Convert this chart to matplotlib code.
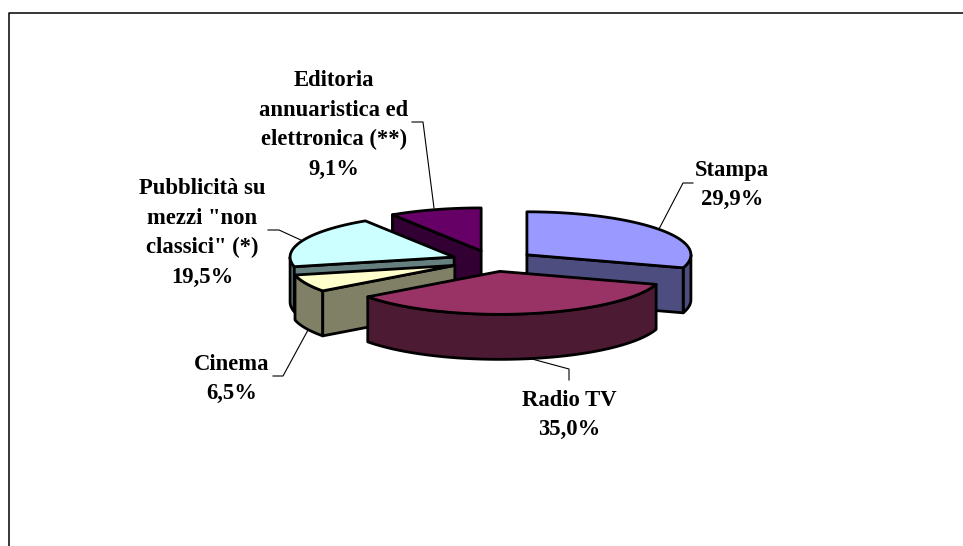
import numpy as np
import matplotlib
matplotlib.use('Agg')
import matplotlib.pyplot as plt
from matplotlib.patches import Polygon

# Data (clockwise from 12 o'clock)
labels = ['Stampa\n29,9%', 'Radio TV\n35,0%', 'Cinema\n6,5%',
          'Pubblicità su\nmezzi "non\nclassici" (*)\n19,5%',
          'Editoria\nannuaristica ed\nelettronica (**)\n9,1%']
values = [29.9, 35.0, 6.5, 19.5, 9.1]
top_colors = ['#9999FF', '#993366', '#FFFFCC', '#CCFFFF', '#660066']
side_colors = ['#4D4D80', '#4D1A33', '#808066', '#668080', '#330033']
label_pos = [(732, 185), (569, 415), (232, 379), (202, 233), (334, 125)]
leaders = [[(693, 183), (683, 183), (659, 229)],
           [(569, 380), (569, 369), (532, 359)],
           [(273, 376), (283, 376), (308, 330)],
           [(268, 230), (279, 230), (303, 241)],
           [(412, 122), (423, 122), (434, 208)]]

# Projection of the pie, in pixels
cx, cy = 493, 261
rx, ry = 164, 43
depth = 45
ex, ey = 42, 10.5
lw = 2.0

fig = plt.figure(figsize=(9.63, 5.46), dpi=100)
ax = fig.add_axes([0, 0, 1, 1])
ax.set_xlim(0, 963)
ax.set_ylim(546, 0)
ax.axis('off')

# Frame: only top and left are in the picture
ax.plot([963, 9, 9], [13, 13, 546], color='black', lw=1.1, clip_on=False)

for pts in leaders:
    xs, ys = zip(*pts)
    ax.plot(xs, ys, color='black', lw=0.8, zorder=1)


def rim(a, ox, oy, dz=0):
    return np.column_stack([ox + rx * np.sin(a), oy - ry * np.cos(a) + dz])


edges = np.radians(np.cumsum([0] + values) * 3.6)
slices = []
for i in range(len(values)):
    a0, a1 = edges[i], edges[i + 1]
    mid = (a0 + a1) / 2
    slices.append((i, a0, a1, cx + ex * np.sin(mid), cy - ey * np.cos(mid)))

# painter's order, back to front
order = [4, 0, 3, 2, 1]
z = 2
for i in order:
    _, a0, a1, ox, oy = slices[i]
    style = dict(edgecolor='black', lw=lw, joinstyle='round')
    # outer wall, only the part facing the viewer
    lo, hi = max(a0, np.pi / 2), min(a1, 3 * np.pi / 2)
    if hi > lo:
        a = np.linspace(lo, hi, 80)
        wall = np.vstack([rim(a, ox, oy), rim(a[::-1], ox, oy, depth)])
        ax.add_patch(Polygon(wall, facecolor=side_colors[i], zorder=z, **style))
    # cut faces
    for a, visible in ((a0, np.sin(a0) < -1e-6), (a1, np.sin(a1) > 1e-6)):
        if visible:
            e = rim(np.array([a]), ox, oy)[0]
            face = [(ox, oy), e, (e[0], e[1] + depth), (ox, oy + depth)]
            ax.add_patch(Polygon(face, facecolor=side_colors[i], zorder=z, **style))
    # top
    a = np.linspace(a0, a1, 120)
    top = np.vstack([[ox, oy], rim(a, ox, oy)])
    ax.add_patch(Polygon(top, facecolor=top_colors[i], zorder=z + 0.5, **style))
    z += 1

for lab, (x, y) in zip(labels, label_pos):
    ax.text(x, y, lab, ha='center', va='center', family='Liberation Serif',
            weight='bold', fontsize=16.3, linespacing=1.52, zorder=20)

fig.savefig('out.png', dpi=100)
